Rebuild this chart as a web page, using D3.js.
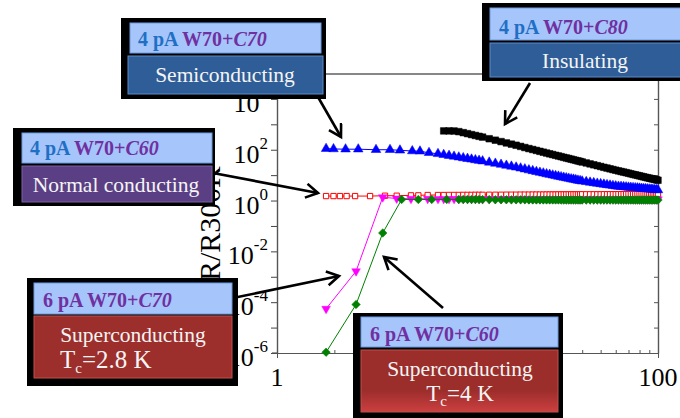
<!DOCTYPE html>
<html><head><meta charset="utf-8">
<script src="https://cdn.jsdelivr.net/npm/d3@7"></script>
<style>
html,body{margin:0;padding:0;background:#fff;}
svg{display:block;}
svg text{font-family:"Liberation Serif","DejaVu Serif",serif;}
</style></head><body>
<svg id="chart" width="680" height="418" font-family="Liberation Serif, DejaVu Serif, serif"></svg>
<script>
// ---------------- data (T in K, R/R300K) ----------------
const tGrid = [7,7.5,8,8.5,9,9.5,10,10.5,11,11.5,
  12,13,14,15,16,17,18,19,20,21,22,23,24,25,26,27,28,29,30,31,32,33,34,35,36,37,38,39,40,
  42,44,46,48,50,52,54,56,58,60,62,64,66,68,70,72,74,76,78,80,82,84,86,88,90,92,94,96,98,100];

// 4 pA W70+C70 (semiconducting) - blue up triangles
const blueT = [1.81,1.98,2.29,2.67,3.31,3.92,4.42,5.13,5.63,6.28];
const blueR = [110,107,105,105,100,100,95,89,87,76];
const blueGrid = [69.2,63.5,58.6,54.5,50.7,47.4,44.5,41.9,39.5,37.4,
  35.5,31.8,28.8,26.2,24.0,22.1,20.4,18.7,17.2,15.8,14.7,13.6,12.7,11.9,11.1,10.5,9.9,9.4,8.9,8.5,8.1,7.7,7.4,7.0,6.8,6.5,6.2,6.0,5.75,
  5.46,5.19,4.94,4.71,4.51,4.32,4.14,3.98,3.84,3.69,3.59,3.52,3.44,3.37,3.30,3.24,3.18,3.13,3.08,3.02,2.97,2.92,2.88,2.83,2.79,2.75,2.71,2.67,2.64,2.60];

// 4 pA W70+C80 (insulating) - black squares
const blackT = [];
const blackR = [];
const blackGrid = [null,550,550,546,515,470,430,394,364,337,
  314,271,237,209,185,166,150,135,122,111,102,93.8,86.5,80.0,74.1,69.0,64.6,60.4,56.8,53.3,50.2,47.4,44.9,42.5,40.3,38.3,36.4,34.7,33.0,
  30.2,27.7,25.5,23.6,21.9,20.3,19.0,17.7,16.6,15.6,14.7,13.9,13.2,12.5,11.9,11.3,10.7,10.3,9.8,9.4,8.95,8.6,8.2,7.9,7.6,7.3,7.05,6.8,6.55,6.3];

// 4 pA W70+C60 (normal conducting) - red open squares
const redT = [1.81,1.98,2.14,2.32,2.57,3.08,3.69,4.25,5.05,5.52,6.18];
const redR = [1.5,1.5,1.5,1.5,1.5,1.5,1.55,1.55,1.6,1.6,1.65];
const redGrid = [1.65,1.65,1.66,1.66,1.66,1.67,1.67,1.67,1.68,1.68,
  1.68,1.69,1.69,1.69,1.7,1.7,1.7,1.71,1.71,1.71,1.72,1.72,1.72,1.72,1.73,1.73,1.73,1.73,1.74,1.74,1.74,1.74,1.75,1.75,1.75,1.75,1.75,1.76,1.76,
  1.76,1.76,1.76,1.76,1.76,1.77,1.77,1.77,1.77,1.77,1.78,1.78,1.78,1.78,1.78,1.79,1.79,1.79,1.79,1.79,1.8,1.8,1.8,1.8,1.8,1.8,1.8,1.8,1.8,1.8];

// 6 pA W70+C70 (superconducting, Tc=2.8 K) - magenta down triangles
const magT = [1.81,2.60,3.59,4.25,5.05,6.18];
const magR = [5.5e-5,1.65e-3,1.35,1.2,1.18,1.17];
const magGrid = [1.16,1.16,1.16,1.16,1.16,1.16,1.16,1.16,1.16,1.16,
  1.15,1.15,1.15,1.15,1.15,1.15,1.15,1.15,1.15,1.15,1.14,1.14,1.14,1.14,1.14,1.14,1.14,1.14,1.14,1.14,1.13,1.13,1.13,1.13,1.13,1.13,1.13,1.13,1.13,
  1.12,1.12,1.12,1.12,1.12,1.12,1.12,1.12,1.12,1.12,1.12,1.12,1.12,1.12,1.12,1.12,1.12,1.12,1.12,1.12,1.12,1.12,1.12,1.12,1.12,1.12,1.12,1.12,1.12,1.12];

// 6 pA W70+C60 (superconducting, Tc=4 K) - green diamonds
const greenT = [1.81,2.60,3.59,4.51,5.52,6.49,7.78];
const greenR = [1.07e-6,8.1e-5,0.053,1.1,1.1,1.1,1.1];
const greenGrid = [null,null,null,null,1.1,1.1,1.1,1.1,1.1,1.1,
  1.09,1.09,1.08,1.08,1.08,1.07,1.07,1.07,1.07,1.06,1.06,1.06,1.06,1.06,1.06,1.06,1.06,1.06,1.06,1.05,1.05,1.05,1.05,1.05,1.05,1.05,1.05,1.05,1.05,
  1.05,1.05,1.05,1.05,1.05,1.05,1.05,1.05,1.05,1.05,1.05,1.05,1.05,1.05,1.05,1.05,1.05,1.05,1.05,1.05,1.05,1.05,1.05,1.05,1.05,1.05,1.05,1.05,1.05,1.05];

// axis tick labels
const xTickValues = [1,10,100];
const xLabelValues = [1,100];
const xTickLabels = ["1","100"];
const yLabelExps = [-6,-4,-2,0,2,4];
const yTitle = "R/R300K";

// annotation texts
const annTitles = [
  [["4 pA ","#1f70c4",false],["W70+","#7030a0",false],["C70","#7030a0",true]],
  [["4 pA ","#1f70c4",false],["W70+","#7030a0",false],["C80","#7030a0",true]],
  [["4 pA ","#1f70c4",false],["W70+","#7030a0",false],["C60","#7030a0",true]],
  [["6 pA W70+","#7030a0",false],["C70","#7030a0",true]],
  [["6 pA W70+","#7030a0",false],["C60","#7030a0",true]]
];
const annBody = ["Semiconducting","Insulating","Normal conducting","Superconducting","Superconducting"];
const annTc = [null,null,null,"2.8 K","4 K"];

// ---------------- chart ----------------
const FONT = "'Liberation Serif','DejaVu Serif',serif";
const svg = d3.select("#chart");
const x = d3.scaleLog().domain([1,100]).range([277,658]);
const y = d3.scaleLog().domain([1e-6,1e5]).range([353,73.5]);

const defs = svg.append("defs");
const grad = defs.append("linearGradient").attr("id","redgrad").attr("x1",0).attr("y1",0).attr("x2",0).attr("y2",1);
grad.append("stop").attr("offset","0%").attr("stop-color","#9b2d2b");
grad.append("stop").attr("offset","65%").attr("stop-color","#9b2d2b");
grad.append("stop").attr("offset","100%").attr("stop-color","#cc4040");
defs.append("marker").attr("id","arr").attr("markerUnits","userSpaceOnUse")
  .attr("markerWidth",18).attr("markerHeight",18).attr("refX",13).attr("refY",8).attr("orient","auto")
  .append("path").attr("d","M1,1 L13,8 L1,15").attr("fill","none").attr("stroke","#000").attr("stroke-width",2.6);

const decades = d3.range(-6,6).map(e=>Math.pow(10,e));
const yMinor = y.ticks().filter(v=>Math.abs(Math.log10(v)-Math.round(Math.log10(v)))>1e-6);
const xMinor = x.ticks().filter(v=>Math.abs(Math.log10(v)-Math.round(Math.log10(v)))>1e-6);

function styleAxis(g, col){
  g.selectAll("path.domain").attr("stroke",col).attr("stroke-width",1.2);
  g.selectAll(".tick line").attr("stroke",col).attr("stroke-width",1);
}
svg.append("g").attr("transform",`translate(0,${y.range()[1]})`)
  .call(d3.axisTop(x).tickValues([]).tickSizeOuter(0)).call(g=>styleAxis(g,"#111"));
svg.append("g").attr("transform",`translate(${x.range()[0]},0)`)
  .call(d3.axisLeft(y).tickValues(decades).tickSize(6).tickSizeOuter(0).tickFormat(""))
  .call(g=>styleAxis(g,"#444"));
svg.append("g").attr("transform",`translate(${x.range()[0]},0)`)
  .call(d3.axisRight(y).tickValues(yMinor).tickSize(2).tickSizeOuter(0).tickFormat(""))
  .call(g=>styleAxis(g,"#555"));
svg.append("g").attr("transform",`translate(${x.range()[1]},0)`)
  .call(d3.axisLeft(y).tickValues(yMinor).tickSize(2).tickSizeOuter(0).tickFormat(""))
  .call(g=>styleAxis(g,"#555"));
svg.append("g").attr("transform",`translate(${x.range()[1]},0)`)
  .call(d3.axisLeft(y).tickValues(decades).tickSize(4).tickSizeOuter(0).tickFormat(""))
  .call(g=>styleAxis(g,"#555"));
svg.append("g").attr("transform",`translate(0,${y.range()[0]})`)
  .call(d3.axisBottom(x).tickValues(xTickValues).tickSize(5).tickSizeOuter(0).tickFormat(""))
  .call(g=>styleAxis(g,"#555"));
svg.append("g").attr("transform",`translate(0,${y.range()[0]})`)
  .call(d3.axisTop(x).tickValues(xMinor).tickSize(3).tickSizeOuter(0).tickFormat(""))
  .call(g=>styleAxis(g,"#555"));
svg.append("line").attr("x1",x.range()[0]-5).attr("x2",x.range()[0]).attr("y1",y.range()[0]).attr("y2",y.range()[0]).attr("stroke","#555").attr("stroke-width",1.2);

// y tick labels
yLabelExps.forEach(e=>{
  const t = svg.append("text").attr("x",268).attr("y",y(Math.pow(10,e))+13)
    .attr("text-anchor","end").attr("font-family",FONT).attr("font-size",26).attr("fill","#000");
  t.append("tspan").text("10");
  t.append("tspan").attr("dy",-14).attr("font-size",17).text(String(e));
});
// x tick labels
xLabelValues.forEach((v,i)=>{
  svg.append("text").attr("x",x(v)).attr("y",386).attr("text-anchor","middle")
    .attr("font-family",FONT).attr("font-size",26).attr("fill","#000").text(xTickLabels[i]);
});
// y title
svg.append("text").attr("transform","translate(220,281) rotate(-90)")
  .attr("font-family",FONT).attr("font-size",30).attr("fill","#000").text(yTitle);

// series
function pts(tS,rS,grid){
  const a = tS.map((t,i)=>({t:t,r:rS[i]}));
  const b = tGrid.map((t,i)=>({t:t,r:grid[i]})).filter(d=>d.r!=null);
  return a.concat(b);
}
const line = d3.line().x(d=>x(d.t)).y(d=>y(d.r));
function drawSeries(data, col, symType, size, rot, fill, sw){
  const g = svg.append("g");
  g.append("path").datum(data).attr("d",line).attr("fill","none").attr("stroke",col).attr("stroke-width",1);
  g.selectAll("path.m").data(data).enter().append("path").attr("class","m")
    .attr("d",d3.symbol().type(symType).size(size))
    .attr("transform",d=>`translate(${x(d.t)},${y(d.r)}) rotate(${rot})`)
    .attr("fill",fill).attr("stroke",col).attr("stroke-width",sw);
}
drawSeries(pts(redT,redR,redGrid),"#ff0000",d3.symbolSquare,28,0,"#fff",1);
drawSeries(pts(magT,magR,magGrid),"#ff00ff",d3.symbolTriangle,32,180,"#ff00ff",0.5);
drawSeries(pts(greenT,greenR,greenGrid),"#008000",d3.symbolSquare,36,45,"#008000",0.5);
drawSeries(pts(blueT,blueR,blueGrid),"#0000ff",d3.symbolTriangle,40,0,"#0000ff",0.5);
drawSeries(pts(blackT,blackR,blackGrid),"#000000",d3.symbolSquare,44,0,"#000000",0.5);

// arrows
const arrows = [[318,97,341,137],[530,83,505,124],[213,173,318,193],[233,298,339,276],[443,308,384,257]];
arrows.forEach(a=>{
  svg.append("line").attr("x1",a[0]).attr("y1",a[1]).attr("x2",a[2]).attr("y2",a[3])
    .attr("stroke","#000").attr("stroke-width",2.6).attr("marker-end","url(#arr)");
});

// annotation boxes
const boxes = [
  {sh:[121,18,205,81], t:[130,23,191,30], b:[128,56,195,38], bf:"#2e5d97", tx:138, ty:46, bx:225, by:82},
  {sh:[482,3,200,78],  t:[490,8,192,32],  b:[490,43,192,34], bf:"#2e5d97", tx:499, ty:34, bx:585, by:68},
  {sh:[13,128,202,78], t:[22,133,190,30], b:[22,166,190,36], bf:"#5b3f84", tx:30, ty:155, bx:116, by:192},
  {sh:[27,278,211,108],t:[34,283,198,31], b:[34,316,198,62], bf:"#9c2e2c", tx:43, ty:307, bx:133, by:342, tcx:60, tcy:368, tca:"start"},
  {sh:[353,313,210,110],t:[361,317,197,30],b:[361,350,197,62],bf:"url(#redgrad)", tx:370, ty:341, bx:460, by:376, tcx:460, tcy:401, tca:"middle"}
];
boxes.forEach((B,i)=>{
  const g = svg.append("g");
  g.append("rect").attr("x",B.sh[0]).attr("y",B.sh[1]).attr("width",B.sh[2]).attr("height",B.sh[3]).attr("fill","#000");
  g.append("rect").attr("x",B.t[0]).attr("y",B.t[1]).attr("width",B.t[2]).attr("height",B.t[3])
    .attr("fill","#a6c5fb").attr("stroke","#6d9be0").attr("stroke-width",1);
  g.append("rect").attr("x",B.b[0]).attr("y",B.b[1]).attr("width",B.b[2]).attr("height",B.b[3])
    .attr("fill",B.bf).attr("stroke", i<2?"#5a8ccc":(i==2?"#7a62a6":"#c0504d")).attr("stroke-width",1);
  const tt = g.append("text").attr("x",B.tx).attr("y",B.ty).attr("font-family",FONT).attr("font-size",20).attr("font-weight","bold");
  annTitles[i].forEach(s=>{
    tt.append("tspan").attr("fill",s[1]).attr("font-style",s[2]?"italic":"normal").text(s[0]);
  });
  g.append("text").attr("x",B.bx).attr("y",B.by).attr("text-anchor","middle")
    .attr("font-family",FONT).attr("font-size",21.5).attr("fill","#f4f4f4").text(annBody[i]);
  if(annTc[i]){
    const tc = g.append("text").attr("x",B.tcx).attr("y",B.tcy).attr("text-anchor",B.tca)
      .attr("font-family",FONT).attr("font-size",i==3?25:23).attr("fill","#f4f4f4");
    tc.append("tspan").text("T");
    tc.append("tspan").attr("font-size",15).attr("dy",5).text("c");
    tc.append("tspan").attr("dy",-5).text("=" + annTc[i]);
  }
});
</script>
</body></html>
